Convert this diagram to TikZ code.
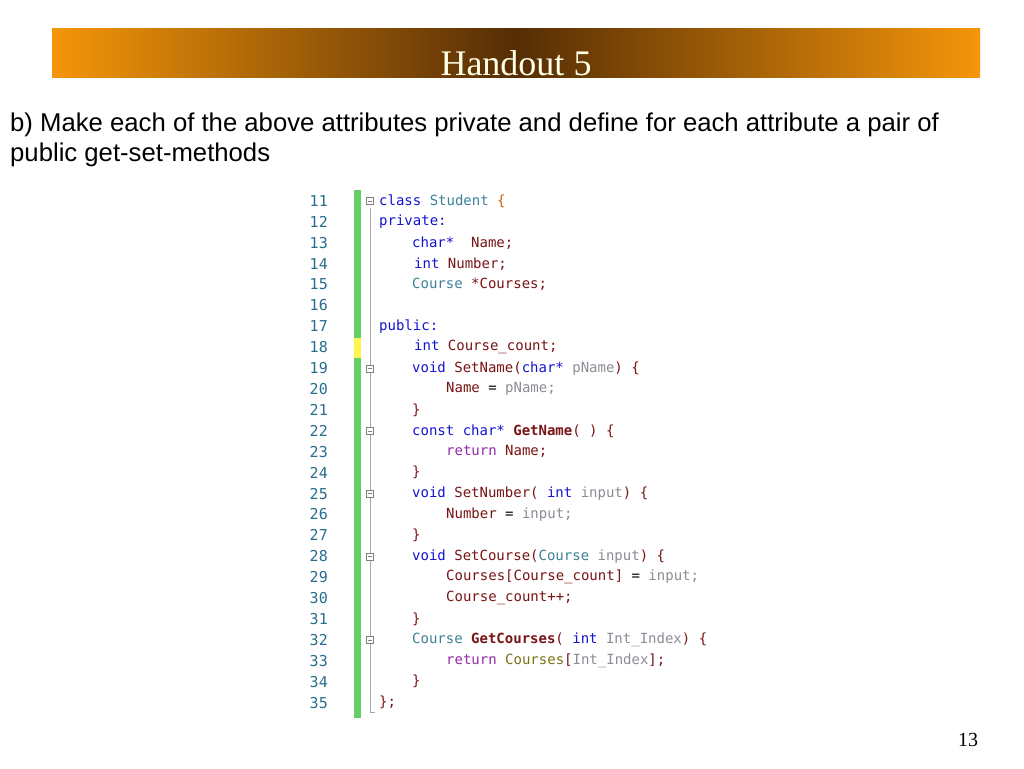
\documentclass[tikz,border=0pt]{standalone}
\usepackage{fontspec}
\setmainfont{Liberation Sans}
\setmonofont{DejaVu Sans Mono}
\newfontfamily\titlefont{Liberation Serif}
\definecolor{kw}{RGB}{20,20,210}
\definecolor{ty}{RGB}{60,130,150}
\definecolor{id}{RGB}{120,20,20}
\definecolor{pa}{RGB}{140,140,150}
\definecolor{rt}{RGB}{150,40,170}
\definecolor{ln}{RGB}{40,110,140}
\definecolor{og}{RGB}{245,150,10}
\definecolor{br}{RGB}{85,45,5}
\definecolor{gbar}{RGB}{100,205,100}
\newcommand{\K}[1]{\textcolor{kw}{#1}}
\newcommand{\T}[1]{\textcolor{ty}{#1}}
\newcommand{\I}[1]{\textcolor{id}{#1}}
\newcommand{\Pa}[1]{\textcolor{pa}{#1}}
\newcommand{\R}[1]{\textcolor{rt}{#1}}
\begin{document}
\begin{tikzpicture}[x=1pt,y=-1pt,
 code/.style={anchor=west,inner sep=0pt,font=\ttfamily\fontsize{14}{14}\selectfont},
 lnum/.style={anchor=east,inner sep=0pt,text=ln,font=\ttfamily\fontsize{15}{15}\selectfont},
 fold/.style={draw=gray,fill=white,minimum size=7pt,inner sep=0pt}]
\useasboundingbox (0,0) rectangle (1024,768);
\fill[white] (0,0) rectangle (1024,768);
\shade[left color=og,right color=og,middle color=br] (52,29) rectangle (980,77);
\node[text=yellow!10,font=\titlefont\fontsize{36}{36}\selectfont] (title) at (516,63) {Handout 5};
\node[anchor=west,inner sep=0pt,font=\fontsize{25.7}{25.7}\selectfont] (t1) at (10,125) {b) Make each of the above attributes private and define for each attribute a pair of};
\node[anchor=west,inner sep=0pt,font=\fontsize{25.7}{25.7}\selectfont] (t2) at (10,155) {public get-set-methods};
\fill[gbar] (354,190) rectangle (361,718);
\fill[yellow!70] (354,338) rectangle (361,358);
\draw[gray!70] (370,208) -- (370,712) -- (375,712);
\foreach \i in {0,...,24}{
 \pgfmathtruncatemacro\n{11+\i}
 \node[lnum] (n\n) at (328,201+20.9*\i) {\n};
}
\def\y#1{201+20.9*(#1-11)}
\foreach \l in {11,19,22,25,28,32}{\node[fold] (f\l) at (370,{\y{\l}}) {};
 \draw[gray] ([xshift=1.5pt]f\l.west) -- ([xshift=-1.5pt]f\l.east);}
\node[code] (c11) at (379,{\y{11}}) {\K{class} \T{Student} \textcolor{orange!80!black}{\{}};
\node[code] (c12) at (379,{\y{12}}) {\K{private:}};
\node[code] (c13) at (412,{\y{13}}) {\K{char*}\ \ \I{Name;}};
\node[code] (c14) at (414,{\y{14}}) {\K{int} \I{Number;}};
\node[code] (c15) at (412,{\y{15}}) {\T{Course} \I{*Courses;}};
\node[code] (c17) at (379,{\y{17}}) {\K{public:}};
\node[code] (c18) at (414,{\y{18}}) {\K{int} \I{Course\_count;}};
\node[code] (c19) at (412,{\y{19}}) {\K{void} \I{SetName(}\K{char*} \Pa{pName}\I{) \{}};
\node[code] (c20) at (446,{\y{20}}) {\I{Name} = \Pa{pName;}};
\node[code] (c21) at (412,{\y{21}}) {\I{\}}};
\node[code] (c22) at (412,{\y{22}}) {\K{const char*} \textbf{\I{GetName}}\I{( ) \{}};
\node[code] (c23) at (446,{\y{23}}) {\R{return} \I{Name;}};
\node[code] (c24) at (412,{\y{24}}) {\I{\}}};
\node[code] (c25) at (412,{\y{25}}) {\K{void} \I{SetNumber(} \K{int} \Pa{input}\I{) \{}};
\node[code] (c26) at (446,{\y{26}}) {\I{Number} = \Pa{input;}};
\node[code] (c27) at (412,{\y{27}}) {\I{\}}};
\node[code] (c28) at (412,{\y{28}}) {\K{void} \I{SetCourse(}\T{Course} \Pa{input}\I{) \{}};
\node[code] (c29) at (446,{\y{29}}) {\I{Courses[Course\_count]} = \Pa{input;}};
\node[code] (c30) at (446,{\y{30}}) {\I{Course\_count++;}};
\node[code] (c31) at (412,{\y{31}}) {\I{\}}};
\node[code] (c32) at (412,{\y{32}}) {\T{Course} \textbf{\I{GetCourses}}\I{(} \K{int} \Pa{Int\_Index}\I{) \{}};
\node[code] (c33) at (446,{\y{33}}) {\R{return} \textcolor{olive!80!black}{Courses}\I{[}\Pa{Int\_Index}\I{];}};
\node[code] (c34) at (412,{\y{34}}) {\I{\}}};
\node[code] (c35) at (379,{\y{35}}) {\I{\};}};
\node[font=\titlefont\fontsize{20}{20}\selectfont] (pg) at (968,740) {13};
\end{tikzpicture}
\end{document}
